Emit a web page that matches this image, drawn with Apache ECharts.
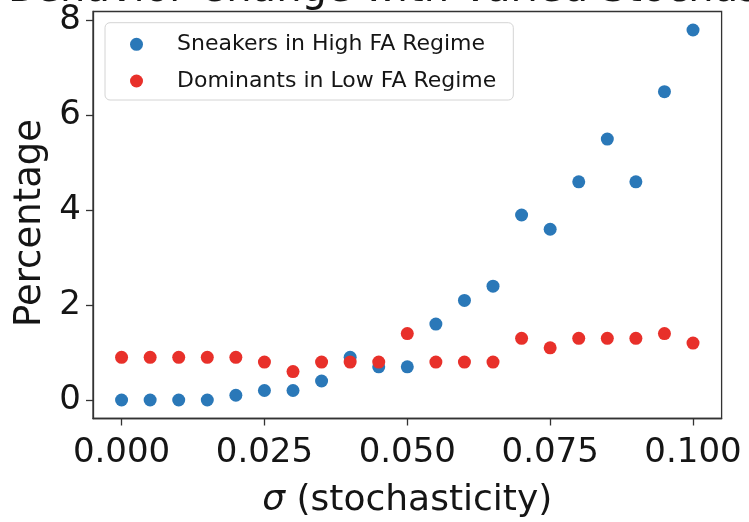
<!DOCTYPE html>
<html>
<head>
<meta charset="utf-8">
<script src="https://cdn.jsdelivr.net/npm/echarts@6/dist/echarts.min.js"></script>
<style>
  html, body { margin: 0; padding: 0; background: #fff; }
  #chart { width: 749px; height: 522px; }
</style>
</head>
<body>
<div id="chart"></div>
<script>
// Noise level sigma sampled in steps of 0.005
const sigma = [0, 0.005, 0.01, 0.015, 0.02, 0.025, 0.03, 0.035, 0.04, 0.045, 0.05,
               0.055, 0.06, 0.065, 0.07, 0.075, 0.08, 0.085, 0.09, 0.095, 0.1];
// Percentage of sneakers under the high FA regime
const sneakersHighFA = [0, 0, 0, 0, 0.1, 0.2, 0.2, 0.4, 0.9, 0.7, 0.7,
                        1.6, 2.1, 2.4, 3.9, 3.6, 4.6, 5.5, 4.6, 6.5, 7.8];
// Percentage of dominants under the low FA regime
const dominantsLowFA = [0.9, 0.9, 0.9, 0.9, 0.9, 0.8, 0.6, 0.8, 0.8, 0.8, 1.4,
                        0.8, 0.8, 0.8, 1.3, 1.1, 1.3, 1.3, 1.3, 1.4, 1.2];
const xTicks = [0, 0.025, 0.05, 0.075, 0.1];
const yTicks = [0, 2, 4, 6, 8];

const FONT = 'DejaVu Sans';
const INK = '#151515';
const FRAME = '#333333';

const pairs = (xs, ys) => xs.map((x, i) => [x, ys[i]]);

const chart = echarts.init(document.getElementById('chart'), null, { renderer: 'canvas' });

chart.setOption({
  animation: false,
  backgroundColor: '#ffffff',
  textStyle: { fontFamily: FONT },
  graphic: [{
    type: 'text',
    left: 8,
    top: -29,
    style: {
      text: 'Behavior Change with Varied Stochasticity',
      fontSize: 40,
      fontFamily: FONT,
      fill: INK
    }
  }],
  grid: {
    left: 93, right: 27.4, top: 11.5, bottom: 103.5,
    show: true,
    borderColor: FRAME,
    borderWidth: 1.3,
    backgroundColor: 'transparent',
    containLabel: false,
    outerBoundsMode: 'none'
  },
  legend: {
    orient: 'vertical',
    left: 105,
    top: 22.7,
    padding: [10.6, 17, 8, 25],
    itemWidth: 13,
    itemHeight: 13,
    itemGap: 14.7,
    icon: 'circle',
    backgroundColor: '#ffffff',
    borderColor: '#d4d4d4',
    borderWidth: 1,
    borderRadius: 5,
    textStyle: {
      fontFamily: FONT,
      fontSize: 22,
      lineHeight: 22,
      color: INK,
      padding: [0, 0, 0, 29]
    },
    data: ['Sneakers in High FA Regime', 'Dominants in Low FA Regime']
  },
  xAxis: {
    type: 'value',
    min: -0.005,
    max: 0.105,
    name: '{s|σ} (stochasticity)',
    nameLocation: 'middle',
    nameGap: 64,
    nameTextStyle: {
      fontFamily: FONT,
      fontSize: 36,
      color: INK,
      rich: { s: { fontFamily: FONT, fontSize: 36, fontStyle: 'italic', color: INK } }
    },
    axisLine: { show: true, onZero: false, lineStyle: { color: FRAME, width: 1.3 } },
    splitLine: { show: false },
    axisTick: {
      show: true, inside: false, length: 7,
      customValues: xTicks,
      lineStyle: { color: FRAME, width: 1.3 }
    },
    axisLabel: {
      customValues: xTicks,
      margin: 18,
      fontFamily: FONT,
      fontSize: 34,
      color: INK,
      formatter: v => v.toFixed(3)
    }
  },
  yAxis: {
    type: 'value',
    min: -0.39,
    max: 8.19,
    name: 'Percentage',
    nameLocation: 'middle',
    nameGap: 42,
    nameRotate: 90,
    nameTextStyle: { fontFamily: FONT, fontSize: 37, color: INK, padding: [0, 16, 0, 0] },
    axisLine: { show: true, onZero: false, lineStyle: { color: FRAME, width: 1.3 } },
    splitLine: { show: false },
    axisTick: {
      show: true, inside: false, length: 7,
      customValues: yTicks,
      lineStyle: { color: FRAME, width: 1.3 }
    },
    axisLabel: {
      customValues: yTicks,
      margin: 12,
      fontFamily: FONT,
      fontSize: 34,
      color: INK,
      formatter: v => String(v)
    }
  },
  series: [
    {
      name: 'Sneakers in High FA Regime',
      type: 'scatter',
      symbol: 'circle',
      symbolSize: 13,
      itemStyle: { color: '#2a78b8', opacity: 1 },
      data: pairs(sigma, sneakersHighFA),
      z: 2
    },
    {
      name: 'Dominants in Low FA Regime',
      type: 'scatter',
      symbol: 'circle',
      symbolSize: 13,
      itemStyle: { color: '#e8302a', opacity: 1 },
      data: pairs(sigma, dominantsLowFA),
      z: 3
    }
  ]
});
</script>
</body>
</html>
